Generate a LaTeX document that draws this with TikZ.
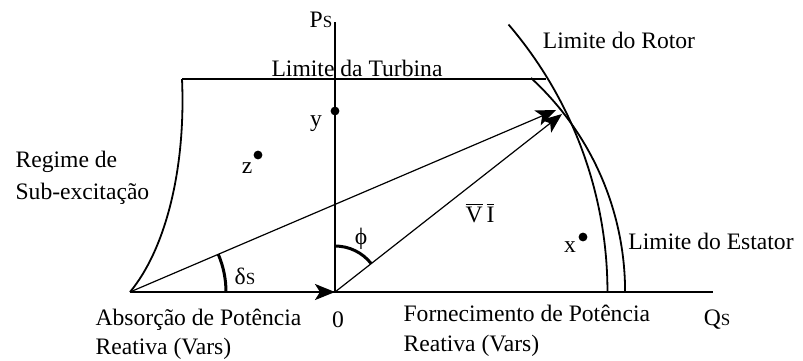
\documentclass[tikz,border=0pt]{standalone}
\usepackage{fontspec}
\setmainfont{Liberation Serif}
\usepackage{amsmath}
\usetikzlibrary{arrows.meta}
\newcommand{\sS}{{\fontsize{8.5}{10}\selectfont S}}
\newcommand{\vbar}[1]{$\overline{\text{#1}}$}

\begin{document}
\begin{tikzpicture}[x=0.5pt,y=-0.5pt,line width=0.6pt,
  every node/.style={inner sep=0pt,font=\fontsize{11.8}{14}\selectfont},
  vec/.style={-{Stealth[length=10pt,width=8pt,inset=2.5pt]}},
  lim/.style={line width=0.9pt},
  ang/.style={line width=1.5pt},
  dot/.style={circle,fill,inner sep=0pt,minimum size=4.4pt}]
\useasboundingbox (0,0) rectangle (803,360);
% axes
\coordinate (O) at (335,292);
\coordinate (A) at (130,292);
\coordinate (Pt) at (335,22);
\coordinate (Qe) at (713,292);
\draw (A) -- (Qe);
\draw (O) -- (Pt);
\node (ps) at (321,20) {P\sS};
\node (qs) at (717,320) {Q\sS};
\node (zero) at (338,320) {0};
% limits
\coordinate (T1) at (182,79);
\coordinate (T2) at (546,79);
\draw (T1) -- (T2);
\node (turb) at (357,68) {Limite da Turbina};
\draw[lim] (T1) .. controls (186,170) and (165,250) .. (A);
\draw[lim] (508.5,24.5) arc[start angle=-40.6,end angle=0,radius=411];
\draw[lim] (531,78) arc[start angle=-47.5,end angle=0,radius=290];
\node (rotor) at (619,40) {Limite do Rotor};
\node (estator) at (711,241) {Limite do Estator};
% vectors
\coordinate (P1) at (556,110);
\coordinate (P2) at (562,114);
\coordinate (E) at (262,292);
\draw[vec] (A) -- (P1);
\draw[vec] (O) -- (P2);
\draw[vec,line width=1.2pt] (E) -- (O);
\draw[ang] (226,292) arc[start angle=0,end angle=-23.1,radius=96];
\draw[ang] (335,246) arc[start angle=-90,end angle=-38.1,radius=46];
\node (delta) at (245,276) {δ\sS};
\node (phi) at (361,239) {ϕ};
\node (vi) at (480,213) {\vbar{V}\,\vbar{I}};
% operating points
\node[dot] (y) at (335,111) {};
\node[dot] (z) at (258,155) {};
\node[dot] (x) at (583,237) {};
\node (ylab) at (316,124) {y};
\node (zlab) at (247,168) {z};
\node (xlab) at (570,247) {x};
% regions
\node[anchor=west,align=left,font=\fontsize{11.8}{16}\selectfont] (sub) at (15,178) {Regime de\\Sub-excitação};
\node[anchor=west,align=left,font=\fontsize{11.8}{14.5}\selectfont] (abs) at (95,334) {Absorção de Potência\\Reativa (Vars)};
\node[anchor=west,align=left,font=\fontsize{11.8}{15}\selectfont] (forn) at (403,331) {Fornecimento de Potência\\Reativa (Vars)};
\end{tikzpicture}
\end{document}
